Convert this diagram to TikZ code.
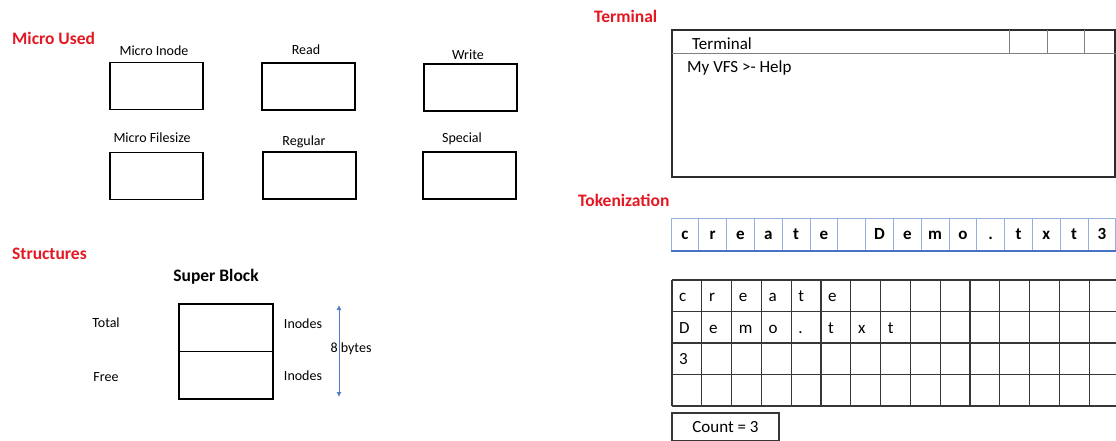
\documentclass[tikz,border=0pt]{standalone}
\usepackage{fontspec}
\setmainfont{Carlito}
\usetikzlibrary{arrows.meta}
\definecolor{hdred}{RGB}{228,24,34}
\definecolor{tokblue}{RGB}{150,176,222}
\definecolor{tokdark}{RGB}{72,114,196}
\definecolor{arrblue}{RGB}{82,122,200}
\definecolor{gridgray}{RGB}{55,55,55}
\definecolor{termgray}{RGB}{45,45,45}
\begin{document}
\begin{tikzpicture}[x=1pt,y=-1pt,
  heading/.style={font=\fontsize{17.5}{18}\selectfont\bfseries, text=hdred, anchor=west, inner sep=0pt},
  lbl/.style={font=\fontsize{14}{15}\selectfont, inner sep=0pt},
  mbox/.style={draw=black, line width=1.5pt, minimum width=93pt, minimum height=47pt, inner sep=0pt},
  sbox/.style={draw=black, line width=1.5pt, minimum width=94pt, minimum height=47.5pt, inner sep=0pt},
  tcell/.style={draw=tokblue, line width=1pt, minimum width=27.8pt, minimum height=32pt, inner sep=0pt,
    text height=11.5pt, text depth=0pt, font=\fontsize{17}{17}\selectfont\bfseries},
  gline/.style={draw=gridgray, line width=1.1pt},
  gtxt/.style={font=\fontsize{17}{17}\selectfont, anchor=west, inner sep=0pt, text height=11.5pt, text depth=0pt},
  termtxt/.style={font=\fontsize{17}{18}\selectfont, anchor=west, inner sep=0pt},
  dim/.style={draw=arrblue, line width=0.9pt, {Latex[length=5pt,width=5pt]}-{Latex[length=5pt,width=5pt]}}
]
\useasboundingbox (0,0) rectangle (1116,441);
\fill[white] (0,0) rectangle (1116,441);

% ---------- Micro Used ----------
\node[heading] (hmicro) at (12,38) {Micro Used};
\node[lbl] (linode) at (154,51) {Micro Inode};
\node[lbl] (lread) at (306,50) {Read};
\node[lbl] (lwrite) at (468,55) {Write};
\node[lbl] (lfsize) at (152,138) {Micro Filesize};
\node[lbl] (lreg) at (304,142) {Regular};
\node[lbl] (lspec) at (462,139) {Special};
\node[mbox] (binode) at (156.5,86) {};
\node[mbox] (bread) at (308.5,86.5) {};
\node[mbox] (bwrite) at (470.5,87.5) {};
\node[mbox] (bfsize) at (156.5,176) {};
\node[mbox] (breg) at (309.5,175.5) {};
\node[mbox] (bspec) at (469.5,175.5) {};

% ---------- Structures ----------
\node[heading] (hstruct) at (12,254) {Structures};
\node[font=\fontsize{17.5}{18}\selectfont\bfseries, inner sep=0pt] (sblock) at (216,277) {Super Block};
\node[sbox] (stotal) at (226,327.75) {};
\node[sbox] (sfree) at (226,375.25) {};
\node[lbl] (ltotal) at (106,323) {Total};
\node[lbl] (lfree) at (106,377) {Free};
\node[lbl] (linodes1) at (303,324) {Inodes};
\node[lbl] (linodes2) at (303,376) {Inodes};
\coordinate (atop) at (339,305);
\coordinate (abot) at (339,397);
\draw[dim] (atop) -- (abot);
\node[lbl] (lbytes) at (351,349) {8 bytes};

% ---------- Terminal ----------
\node[heading] (hterm) at (594,16) {Terminal};
\node[draw=termgray, line width=1.5pt, minimum width=443pt, minimum height=147pt, inner sep=0pt] (term) at (893.5,103.5) {};
\draw[gray, line width=0.9pt] (672,53) -- (1116,53);
\foreach \tx in {1009,1047,1084} \draw[gray, line width=0.9pt] (\tx,30) -- (\tx,53);
\node[termtxt] (ttitle) at (692,44) {Terminal};
\node[termtxt] (tprompt) at (687,68) {My VFS >- Help};

% ---------- Tokenization ----------
\node[heading] (htok) at (578,200) {Tokenization};
\foreach \ch [count=\i] in {c,r,e,a,t,e,{},D,e,m,o,.,t,x,t,3}
  \node[tcell] (tk\i) at ({671+27.8*(\i-0.5)},234) {\ch};
\draw[tokdark, line width=2pt] (tk1.south west) -- (tk16.south east);

% grid
\foreach \r in {0,...,4} \draw[gline] (672,{280+31.5*\r}) -- (1116,{280+31.5*\r});
\foreach \k in {0,...,14} \draw[gline] ({672+29.8*\k},280) -- ({672+29.8*\k},406);
\foreach \ch [count=\i] in {c,r,e,a,t,e}
  \node[gtxt] (ga\i) at ({672+29.8*(\i-1)+7},296) {\ch};
\foreach \ch [count=\i] in {D,e,m,o,.,t,x,t}
  \node[gtxt] (gb\i) at ({672+29.8*(\i-1)+7},327.5) {\ch};
\node[gtxt] (gc1) at (679,359) {3};

\node[draw=gridgray, line width=1.1pt, minimum width=107pt, minimum height=28pt, inner sep=0pt,
  font=\fontsize{17}{18}\selectfont] (count) at (725.5,427) {Count = 3};
\end{tikzpicture}
\end{document}
